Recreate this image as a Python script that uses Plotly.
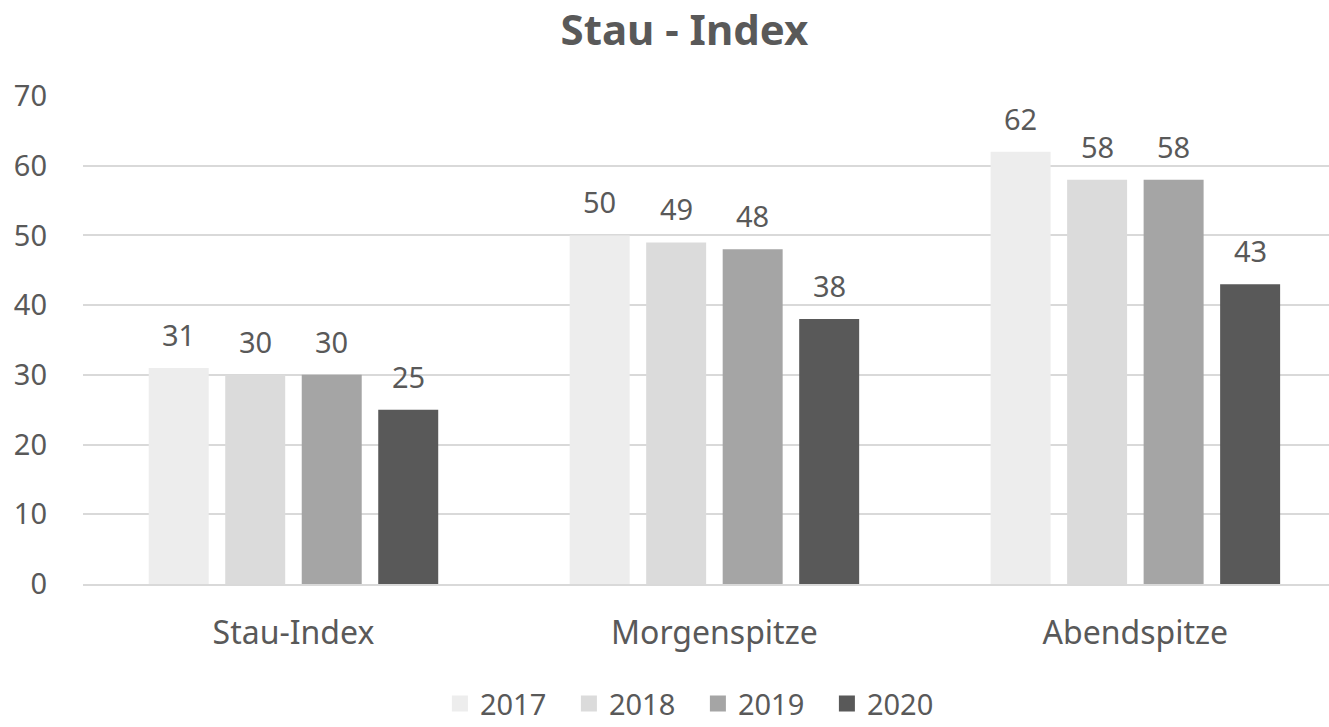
import plotly.graph_objects as go

categories = ["Stau-Index", "Morgenspitze", "Abendspitze"]
years = ["2017", "2018", "2019", "2020"]
values_2017 = [31, 50, 62]
values_2018 = [30, 49, 58]
values_2019 = [30, 48, 58]
values_2020 = [25, 38, 43]
colors = ["#EDEDED", "#DBDBDB", "#A5A5A5", "#595959"]

series = [values_2017, values_2018, values_2019, values_2020]
FONT = "Noto Sans, Open Sans, sans-serif"
TXT = "#595959"

BARGAP = 0.273
BARGROUPGAP = 0.216
n = len(series)
slot = (1 - BARGAP) / n  # width of one series slot within a category

fig = go.Figure()
for k, (year, vals, col) in enumerate(zip(years, series, colors)):
    fig.add_trace(go.Bar(
        x=categories, y=vals, name=year, showlegend=False,
        marker=dict(color=col, line=dict(width=0)),
    ))
    # value labels above each bar, placed at the bar's slot centre
    off = (k - (n - 1) / 2) * slot
    for i, v in enumerate(vals):
        fig.add_annotation(
            x=i + off, y=v, xref="x", yref="y", text=str(v),
            showarrow=False, yanchor="bottom", yshift=12,
            font=dict(family=FONT, size=29, color=TXT),
        )
    # legend entry with a larger square swatch
    fig.add_trace(go.Scatter(
        x=[None], y=[None], mode="markers", name=year,
        marker=dict(symbol="square", size=19, color=col),
    ))

fig.update_layout(
    width=1329, height=727,
    margin=dict(l=83, r=0, t=96, b=143),
    paper_bgcolor="white", plot_bgcolor="white",
    font=dict(family=FONT, size=29, color=TXT),
    title=dict(text="<b>Stau - Index</b>", x=0.515, xanchor="center",
               y=0.958, yanchor="middle", font=dict(size=42, color=TXT)),
    barmode="group", bargap=BARGAP, bargroupgap=BARGROUPGAP,
    showlegend=True,
    legend=dict(orientation="h", x=0.4935, xanchor="center",
                yref="container", y=0.032, yanchor="middle",
                itemsizing="trace", entrywidth=84,
                font=dict(size=29, color=TXT), traceorder="normal"),
    xaxis=dict(range=[-0.5, 2.46], showline=True, linecolor="#D9D9D9",
               linewidth=1.5, ticks="", ticklabelstandoff=20,
               tickfont=dict(size=32, color=TXT)),
    yaxis=dict(range=[0, 70], dtick=10, showgrid=True, gridcolor="#D9D9D9",
               gridwidth=1.5, zeroline=False, showline=False, ticks="",
               ticklabelstandoff=35, tickfont=dict(size=29, color=TXT)),
)

fig.write_html("out.html")
